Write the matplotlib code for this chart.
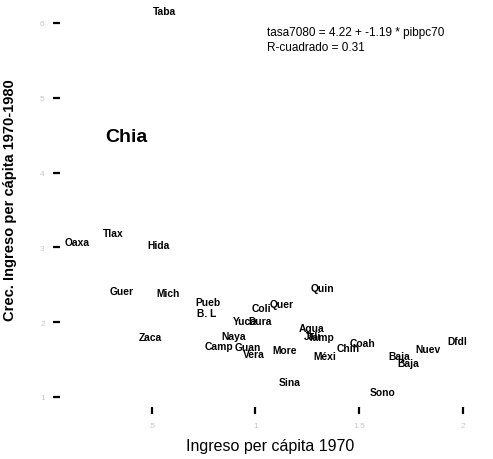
import matplotlib
matplotlib.use("Agg")
import matplotlib.pyplot as plt

plt.rcParams['font.family'] = ['Liberation Sans', 'DejaVu Sans']

states = ["Taba", "Oaxa", "Tlax", "Hida", "Guer", "Mich", "Pueb", "B. L",
          "Yuca", "Dura", "Coli", "Quer", "Quin", "Zaca", "Naya", "Camp",
          "Guan", "Vera", "More", "Agua", "Jali", "Tamp", "Méxi", "Chih",
          "Coah", "Sina", "Sono", "Baja", "Baja", "Nuev", "Dfdl"]
pib70 = [0.506, 0.082, 0.265, 0.477, 0.299, 0.521, 0.709, 0.718,
         0.892, 0.964, 0.983, 1.070, 1.268, 0.439, 0.834, 0.757,
         0.901, 0.940, 1.080, 1.210, 1.234, 1.253, 1.278, 1.389,
         1.456, 1.114, 1.552, 1.640, 1.683, 1.770, 1.924]
tasa7080 = [6.16, 3.07, 3.19, 3.03, 2.42, 2.39, 2.27, 2.12,
            2.02, 2.02, 2.19, 2.24, 2.46, 1.80, 1.82, 1.68,
            1.67, 1.57, 1.63, 1.92, 1.82, 1.80, 1.55, 1.66,
            1.72, 1.20, 1.07, 1.55, 1.45, 1.64, 1.75]

chia_label = "Chia"
chia_x, chia_y = 0.275, 4.48

xticks = [0.5, 1.0, 1.5, 2.0]
xticklabels = [".5", "1", "1.5", "2"]
yticks = [1, 2, 3, 4, 5, 6]
yticklabels = ["1", "2", "3", "4", "5", "6"]

reg_text = "tasa7080 = 4.22 + -1.19 * pibpc70"
r2_text = "R-cuadrado = 0.31"

fig = plt.figure(figsize=(4.93, 4.60), dpi=100)
W, H = 493, 460
left, right, top, bottom = 60, 480, 5, 408
ax = fig.add_axes([left / W, 1 - bottom / H, (right - left) / W, (bottom - top) / H])
ax.set_xlim(0.058, 2.082)
ax.set_ylim(0.866, 6.254)

for s in ax.spines.values():
    s.set_visible(False)

for name, x, y in zip(states, pib70, tasa7080):
    ax.text(x, y, name, ha='left', va='center', fontsize=7.4, fontweight='bold',
            color='black')
ax.text(chia_x, chia_y, chia_label, ha='left', va='center', fontsize=14,
        fontweight='bold', color='black')

ax.set_xticks(xticks)
ax.set_xticklabels(xticklabels, color='#c8c8c8', fontsize=6)
ax.set_yticks(yticks)
ax.set_yticklabels(yticklabels, color='#c8c8c8', fontsize=6)
ax.tick_params(axis='x', length=5, width=1.6, direction='out', pad=6)
ax.tick_params(axis='y', length=5, width=1.6, direction='out', pad=6)

fig.text(267 / W, 1 - 33 / H, reg_text, ha='left', va='center', fontsize=8.5)
fig.text(267 / W, 1 - 48 / H, r2_text, ha='left', va='center', fontsize=8.5)

fig.text(270 / W, 1 - 447 / H, "Ingreso per cápita 1970", ha='center',
         va='center', fontsize=11.5)
fig.text(10 / W, 1 - 200 / H, "Crec. Ingreso per cápita 1970-1980", ha='center',
         va='center', rotation=90, fontsize=10.5, fontweight='bold')

fig.savefig("out.png", dpi=100)
